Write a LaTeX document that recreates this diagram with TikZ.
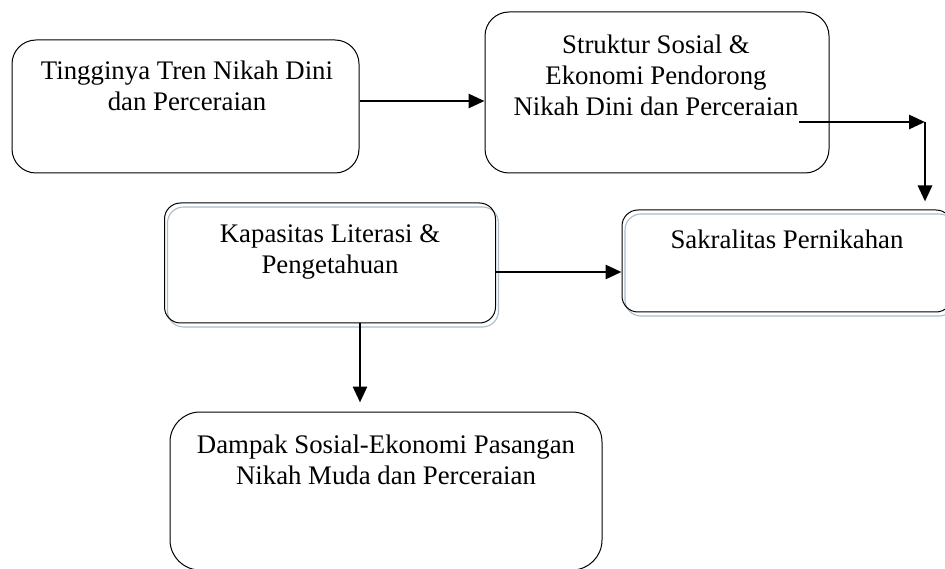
\documentclass[tikz,border=0pt]{standalone}
\usepackage{fontspec}
\setmainfont{Liberation Serif}
\usetikzlibrary{arrows.meta}
\definecolor{shline}{HTML}{A8BCCB}

\begin{document}
\begin{tikzpicture}[x=1pt,y=-1pt,
	box/.style={rectangle,draw,rounded corners=24pt,line width=1pt},
	shbox/.style={box,rounded corners=16pt,preaction={draw=shline,line width=1.1pt,transform canvas={shift={(3pt,-4pt)}}}},
	txt/.style={align=center,font=\fontsize{26.8}{31}\selectfont,inner sep=0pt},
	>={Triangle[length=16pt,width=14pt]},
	arr/.style={->,draw,line width=2.8pt}]
			\useasboundingbox (0,0) rectangle (945,569);

			% boxes
			\node[box,minimum width=347pt,minimum height=133pt] (tren) at (185.5,106.5) {};
			\node[box,minimum width=344pt,minimum height=161pt] (struk) at (657,92.5) {};
			\node[shbox,minimum width=331pt,minimum height=120pt] (kap) at (330,263) {};
			\node[shbox,minimum width=330pt,minimum height=102pt] (sak) at (787,261) {};
			\node[box,rounded corners=30pt,minimum width=432pt,minimum height=158pt] (damp) at (386,491) {};

			% texts
			\node[txt] (trenT) at (187,86) {Tingginya Tren Nikah Dini\\dan Perceraian};
			\node[txt] (strukT) at (656,75) {Struktur Sosial \&\\Ekonomi Pendorong\\Nikah Dini dan Perceraian};
			\node[txt] (kapT) at (330,252) {Kapasitas Literasi \&\\Pengetahuan};
			\node[txt] (sakT) at (787,239) {Sakralitas Pernikahan};
			\node[txt] (dampT) at (386,460) {Dampak Sosial-Ekonomi Pasangan\\Nikah Muda dan Perceraian};

			\coordinate (outS) at (799,122);
			\coordinate (elbow) at (925,122);

			\path[arr] ([yshift=5.5pt]tren.east) -- ([yshift=5.5pt]tren.east -| struk.west);
			\path[arr] (outS) -- (elbow);
			\path[arr,shorten >=8pt] (elbow) -- (elbow |- sak.north);
			\path[arr] ([yshift=-9pt]kap.east) -- ([yshift=-9pt]kap.east -| sak.west);
			\path[arr,shorten >=9pt] ([xshift=30pt]kap.south) -- ([xshift=30pt]kap.south |- damp.north);
		\end{tikzpicture}
\end{document}
